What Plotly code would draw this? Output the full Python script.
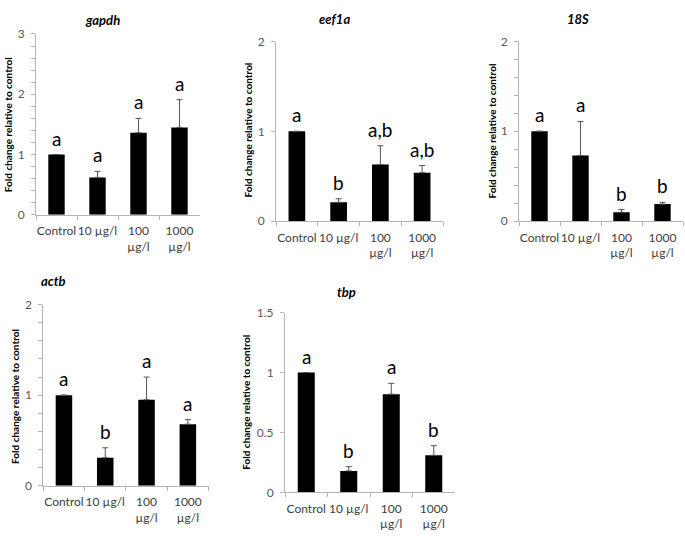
import plotly.graph_objects as go

# ---------------- data ----------------
categories = ["Control", "10 µg/l", "100<br>µg/l", "1000<br>µg/l"]

genes = ["gapdh", "eef1a", "18S", "actb", "tbp"]

gapdh_mean = [1.0, 0.62, 1.36, 1.45]
gapdh_err_top = [1.0, 0.72, 1.60, 1.91]
gapdh_letters = ["a", "a", "a", "a"]

eef1a_mean = [1.0, 0.21, 0.63, 0.54]
eef1a_err_top = [1.0, 0.25, 0.84, 0.62]
eef1a_letters = ["a", "b", "a,b", "a,b"]

s18_mean = [1.0, 0.73, 0.10, 0.19]
s18_err_top = [1.0, 1.11, 0.13, 0.21]
s18_letters = ["a", "a", "b", "b"]

actb_mean = [1.0, 0.31, 0.95, 0.68]
actb_err_top = [1.0, 0.42, 1.20, 0.73]
actb_letters = ["a", "b", "a", "a"]

tbp_mean = [1.0, 0.18, 0.82, 0.31]
tbp_err_top = [1.0, 0.215, 0.91, 0.39]
tbp_letters = ["a", "b", "a", "b"]

y_max = [3, 2, 2, 2, 1.5]
y_dtick = [1, 1, 1, 1, 0.5]
y_minor_per_major = [5, 1, 5, 5, 1]

means = [gapdh_mean, eef1a_mean, s18_mean, actb_mean, tbp_mean]
err_tops = [gapdh_err_top, eef1a_err_top, s18_err_top, actb_err_top, tbp_err_top]
letters = [gapdh_letters, eef1a_letters, s18_letters, actb_letters, tbp_letters]

y_title = "Fold change relative to control"

# ---------------- layout (pixels) ----------------
W, H = 685, 540
# x0, x1, y_top, y_bottom for each panel
boxes = [
    (36, 200, 26.7, 212.7),
    (276, 443, 34.5, 219.3),
    (519, 683, 34.3, 219.3),
    (43.3, 208.5, 305, 491.5),
    (285, 455, 313.3, 498.3),
]
title_pos = [(102, 12), (334, 11), (578, 11), (53, 281), (346, 292)]
ytitle_pos = [(7.5, 120), (247, 126), (492, 127), (15, 400), (246, 406)]

FONT = "Lato, 'Open Sans', sans-serif"
AX_COL = "#b4b4b4"
TICK_COL = "#595959"


def fmt(v):
    return f"{v:g}"


fig = go.Figure()
annotations = []

for i in range(5):
    xa = "x" if i == 0 else f"x{i+1}"
    ya = "y" if i == 0 else f"y{i+1}"
    plus = [t - m for t, m in zip(err_tops[i], means[i])]
    fig.add_trace(go.Bar(
        x=categories, y=means[i], xaxis=xa, yaxis=ya,
        width=0.4, marker=dict(color="black", line=dict(width=0)),
        error_y=dict(type="data", symmetric=False, array=plus,
                     arrayminus=[0] * 4, color="#555555", thickness=1, width=3,
                     visible=True),
        showlegend=False, hoverinfo="skip",
    ))
    x0, x1, yt, yb = boxes[i]
    xkey = "xaxis" if i == 0 else f"xaxis{i+1}"
    ykey = "yaxis" if i == 0 else f"yaxis{i+1}"

    n_major = round(y_max[i] / y_dtick[i])
    sub = y_minor_per_major[i]
    tickvals, ticktext = [], []
    for k in range(n_major * sub + 1):
        v = round(k * y_dtick[i] / sub, 6)
        tickvals.append(v)
        ticktext.append(fmt(v) if k % sub == 0 else "")

    yaxis = dict(
        domain=[1 - yb / H, 1 - yt / H], anchor=xa, range=[0, y_max[i]],
        tickmode="array", tickvals=tickvals, ticktext=ticktext,
        showgrid=False, zeroline=False,
        showline=True, linecolor=AX_COL, linewidth=1,
        ticks="outside", ticklen=4, tickcolor=AX_COL, tickwidth=1,
        tickfont=dict(family=FONT, size=12, color=TICK_COL),
        ticklabelstandoff=4, fixedrange=True,
    )
    xaxis = dict(
        domain=[x0 / W, x1 / W], anchor=ya, type="category",
        range=[-0.5, 3.5], tickson="boundaries", showgrid=False,
        showline=True, linecolor=AX_COL, linewidth=1,
        ticks="outside", ticklen=4, tickcolor=AX_COL, tickwidth=1,
        tickangle=0, tickfont=dict(family=FONT, size=12, color="#404040"),
        ticklabelstandoff=5, fixedrange=True,
    )
    fig.update_layout(**{xkey: xaxis, ykey: yaxis})

    # significance letters
    for c, t, l in zip(categories, err_tops[i], letters[i]):
        annotations.append(dict(
            x=c, y=t, xref=xa, yref=ya, text=l, showarrow=False,
            yanchor="bottom", yshift=3,
            font=dict(family=FONT, size=19, color="black"),
        ))
    # panel title
    tx, ty = title_pos[i]
    annotations.append(dict(
        x=tx / W, y=1 - ty / H, xref="paper", yref="paper",
        text=f"<b><i>{genes[i]}</i></b>", showarrow=False,
        xanchor="center", yanchor="middle",
        font=dict(family=FONT, size=13, color="black"),
    ))
    # y-axis title
    ax, ay = ytitle_pos[i]
    annotations.append(dict(
        x=ax / W, y=1 - ay / H, xref="paper", yref="paper",
        text=f"<b>{y_title}</b>", showarrow=False, textangle=-90,
        xanchor="center", yanchor="middle",
        font=dict(family=FONT, size=10, color="black"),
    ))

fig.update_layout(
    width=W, height=H, margin=dict(l=0, r=0, t=0, b=0),
    paper_bgcolor="white", plot_bgcolor="white",
    annotations=annotations, bargap=0.6,
)

fig.write_html(
    "out.html",
    config={"displayModeBar": False, "staticPlot": True},
    post_script="document.body.style.margin='0px';document.body.style.overflow='hidden';",
)
